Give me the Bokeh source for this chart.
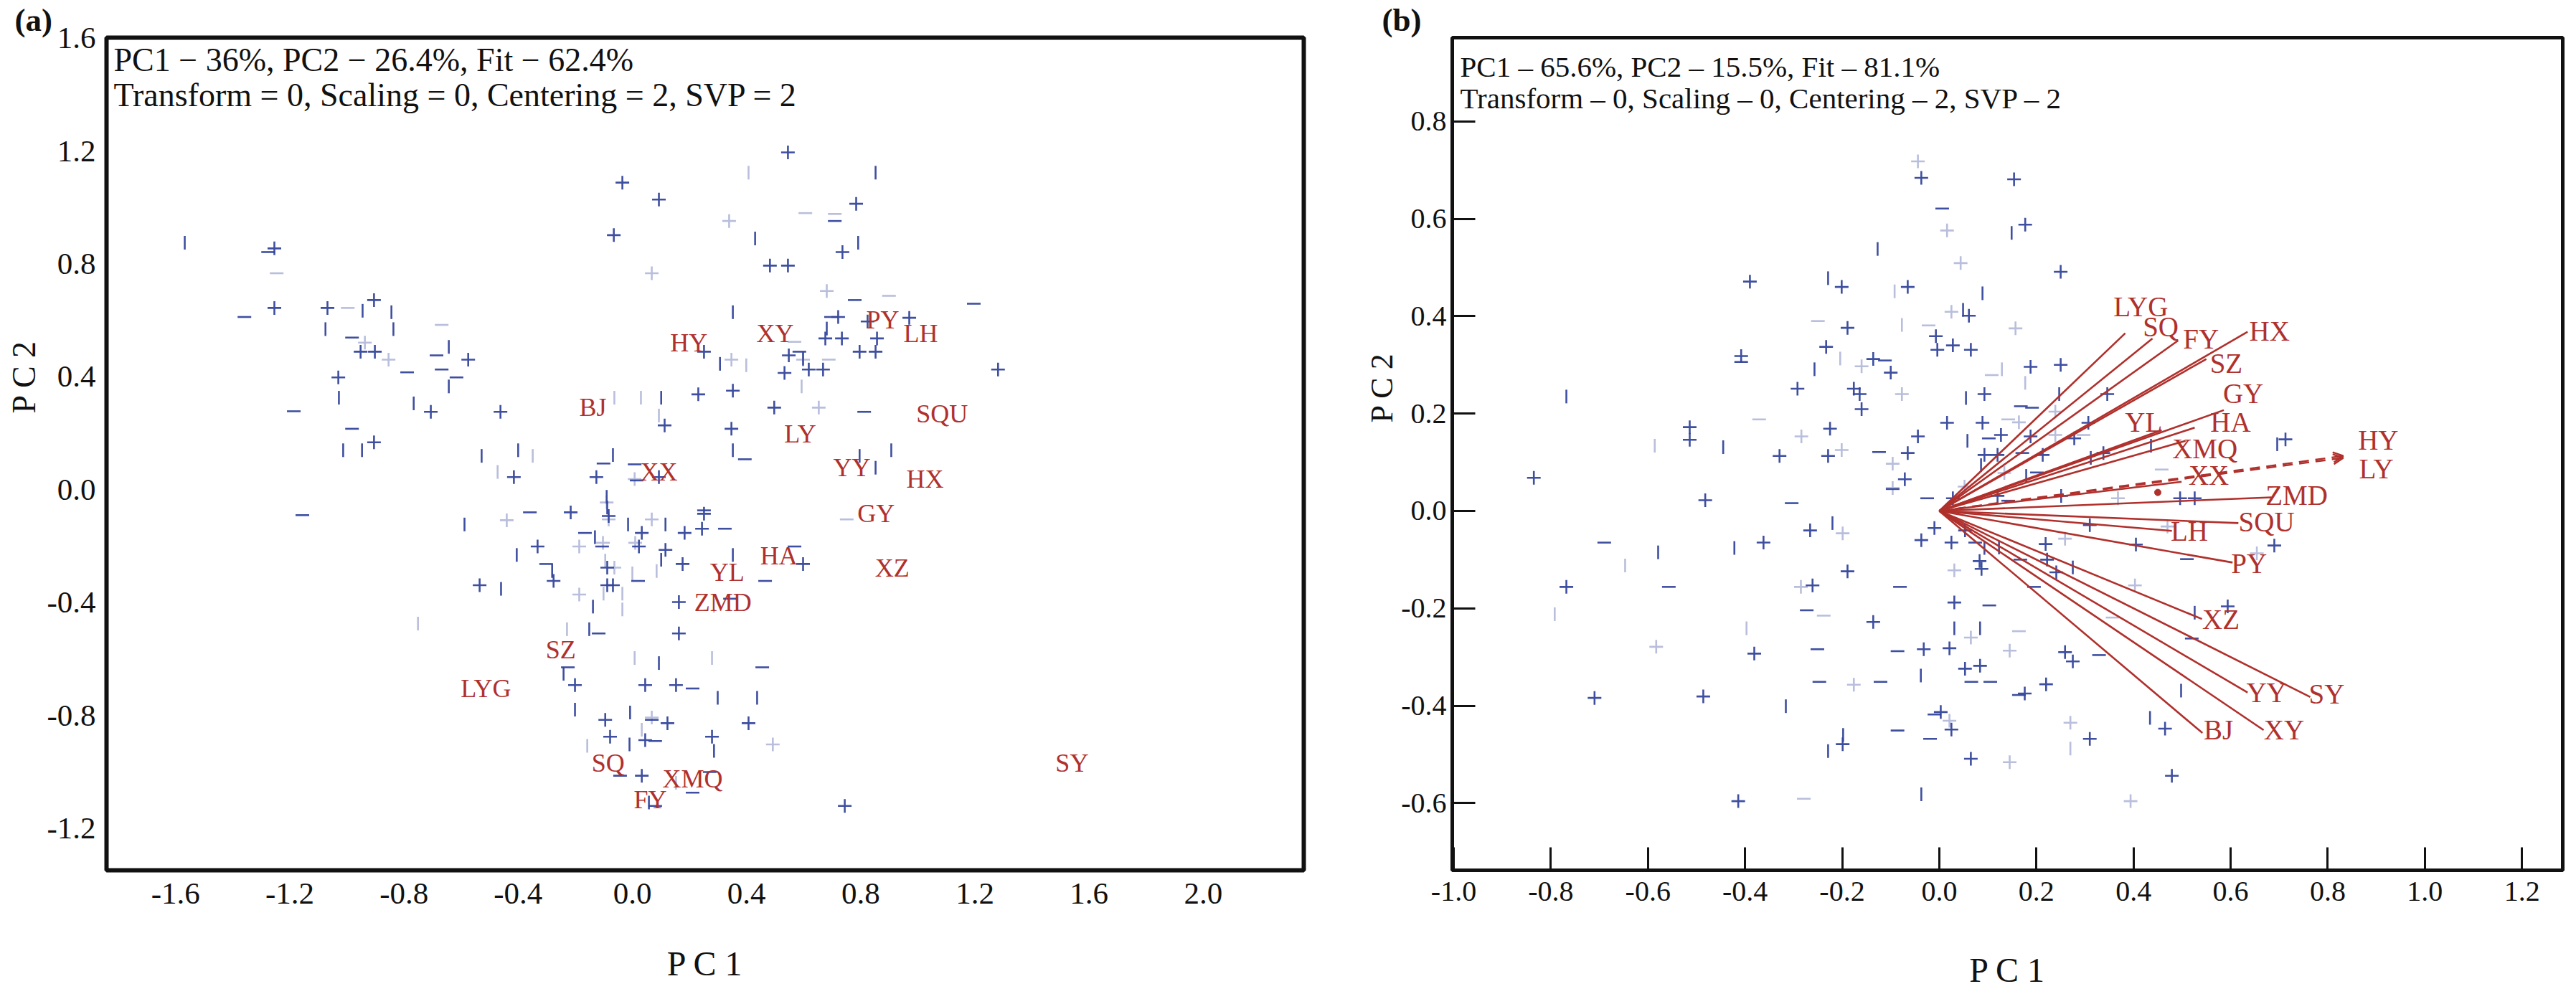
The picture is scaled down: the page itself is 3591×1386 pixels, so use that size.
import math

from bokeh.core.properties import value
from bokeh.embed import file_html
from bokeh.layouts import row
from bokeh.models import (Arrow, FixedTicker, Label, OpenHead, PrintfTickFormatter, Range1d,
                          Title)
from bokeh.plotting import figure
from bokeh.resources import INLINE

FONT = "Liberation Serif"
BLUE = "#34469b"
RED = "#b0302c"

# ---------------------------------------------------------------- panel (a)
# genotype scores (PC1, PC2), grouped by how each marker is drawn
A_PLUS = [
    (-1.254, 0.855), (-1.254, 0.644), (-1.068, 0.644), (-0.905, 0.672), (-0.952, 0.489),
    (-0.902, 0.489), (-0.575, 0.461), (-1.030, 0.398), (-0.706, 0.276), (-0.462, 0.276),
    (-0.905, 0.168), (-0.415, 0.045), (-0.126, 0.045), (-0.035, 1.088), (-0.065, 0.902),
    (0.545, 1.195), (0.093, 1.028), (0.784, 1.013), (0.736, 0.842), (0.482, 0.794),
    (0.545, 0.794), (0.721, 0.612), (0.824, 0.596), (0.970, 0.609), (0.676, 0.536),
    (0.734, 0.536), (0.857, 0.536), (0.796, 0.489), (0.852, 0.489), (0.251, 0.489),
    (0.548, 0.476), (1.281, 0.426), (0.618, 0.426), (0.668, 0.426), (0.533, 0.414),
    (0.231, 0.338), (0.352, 0.351), (0.497, 0.291), (0.113, 0.228), (0.347, 0.216),
    (0.093, 0.045), (-0.216, -0.080), (-0.083, -0.093), (0.251, -0.085), (0.244, -0.138),
    (0.183, -0.153), (0.033, -0.153), (-0.332, -0.201), (0.023, -0.201), (0.116, -0.213),
    (0.176, -0.263), (-0.276, -0.323), (-0.088, -0.276), (-0.535, -0.338), (-0.088, -0.338),
    (-0.068, -0.338), (0.598, -0.263), (0.163, -0.398), (0.163, -0.509), (-0.201, -0.692),
    (0.045, -0.692), (0.153, -0.692), (-0.095, -0.815), (0.123, -0.827), (0.407, -0.827),
    (-0.078, -0.875), (0.045, -0.887), (0.279, -0.875), (0.033, -1.013), (0.744, -1.120),
]
A_PLUS_FAINT = [
    (-0.937, 0.521), (-0.854, 0.461), (0.339, 0.952), (0.068, 0.767), (0.681, 0.704),
    (0.598, 0.461), (0.347, 0.461), (0.653, 0.291), (0.008, 0.038), (-0.440, -0.108),
    (-0.090, -0.045), (-0.083, -0.105), (0.068, -0.105), (-0.103, -0.188), (-0.186, -0.201),
    (0.010, -0.188), (-0.063, -0.276), (-0.186, -0.371), (0.068, -0.807), (0.492, -0.902),
]
A_HBAR = [
    (-1.276, 0.842), (-1.359, 0.612), (-0.982, 0.539), (-0.789, 0.416), (-0.686, 0.476),
    (-0.668, 0.426), (-0.616, 0.398), (-1.186, 0.278), (-0.982, 0.216), (-0.101, 0.093),
    (0.709, 0.952), (0.779, 0.672), (1.196, 0.659), (0.696, 0.612), (0.585, 0.489),
    (0.812, 0.276), (0.394, 0.108), (0.008, 0.090), (0.015, 0.033), (-1.156, -0.090),
    (-0.359, -0.080), (0.251, -0.073), (0.324, -0.138), (-0.166, -0.153), (-0.106, -0.201),
    (-0.302, -0.263), (0.020, -0.323), (0.465, -0.323), (0.568, -0.201), (0.342, -0.386),
    (-0.118, -0.509), (0.455, -0.629), (-0.226, -0.629), (0.211, -0.704), (0.068, -0.815),
    (0.080, -0.890), (-0.043, -1.013), (0.211, -1.073), (0.271, -1.000), (0.080, -1.120),
]
A_HBAR_FAINT = [
    (-1.246, 0.767), (-0.997, 0.644), (-0.668, 0.584), (0.606, 0.980), (0.709, 0.977),
    (0.899, 0.687), (0.568, 0.524), (0.688, 0.461), (0.751, -0.105),
]
A_VBAR = [
    (-1.568, 0.875), (-0.945, 0.634), (-0.844, 0.629), (-1.075, 0.569), (-0.837, 0.569),
    (-0.643, 0.506), (-0.643, 0.366), (-1.028, 0.326), (-0.766, 0.306), (-1.013, 0.140),
    (-0.947, 0.140), (-0.528, 0.120), (-0.400, 0.140), (-0.068, 0.123), (0.852, 1.123),
    (0.430, 0.890), (0.791, 0.875), (0.352, 0.629), (0.681, 0.571), (0.598, 0.464),
    (0.307, 0.446), (0.101, 0.326), (0.352, 0.140), (0.796, 0.120), (0.907, 0.140),
    (0.852, 0.078), (-0.090, -0.025), (-0.088, -0.063), (-0.588, -0.123), (-0.015, -0.123),
    (0.116, -0.123), (-0.131, -0.168), (-0.405, -0.231), (0.101, -0.248), (0.352, -0.231),
    (-0.281, -0.288), (-0.460, -0.351), (-0.138, -0.414), (-0.151, -0.494), (0.093, -0.614),
    (-0.241, -0.652), (0.299, -0.737), (0.437, -0.737), (-0.201, -0.779), (-0.008, -0.789),
    (-0.010, -0.902), (0.286, -0.925), (0.058, -1.108),
]
A_VBAR_FAINT = [
    (-0.349, 0.120), (-0.472, 0.063), (-0.063, 0.326), (0.030, 0.326), (0.407, 1.123),
    (0.399, 0.441), (0.593, 0.366), (0.093, 0.263), (-0.095, -0.251), (0.000, -0.296),
    (-0.101, -0.368), (-0.035, -0.368), (-0.035, -0.424), (0.085, -0.288), (0.286, -0.411),
    (-0.229, -0.494), (-0.751, -0.474), (0.008, -0.596), (0.279, -0.596), (-0.158, -0.907),
    (0.033, -0.850), (0.153, -1.038),
]
# environment names and their scores
A_ENV = ["HY", "XY", "PY", "LH", "BJ", "SQU", "LY", "YY", "HX", "XX", "GY", "HA", "YL",
         "XZ", "ZMD", "SZ", "LYG", "SQ", "XMQ", "FY", "SY"]
A_ENV_PC1 = [0.198, 0.500, 0.877, 1.010, -0.138, 1.085, 0.588, 0.769, 1.025, 0.093, 0.854,
             0.513, 0.332, 0.910, 0.317, -0.251, -0.513, -0.085, 0.211, 0.063, 1.540]
A_ENV_PC2 = [0.521, 0.554, 0.602, 0.554, 0.293, 0.268, 0.198, 0.078, 0.038, 0.063, -0.085,
             -0.233, -0.293, -0.276, -0.398, -0.566, -0.704, -0.967, -1.025, -1.098, -0.967]
A_XTICKS = [-1.6, -1.2, -0.8, -0.4, 0.0, 0.4, 0.8, 1.2, 1.6, 2.0]
A_YTICKS = [-1.2, -0.8, -0.4, 0.0, 0.4, 0.8, 1.2, 1.6]
A_HEADER = ["PC1 \u2212 36%, PC2 \u2212 26.4%, Fit \u2212 62.4%",
            "Transform = 0, Scaling = 0, Centering = 2, SVP = 2"]

# ---------------------------------------------------------------- panel (b)
B_PLUS = [
    (-0.037, 0.684), (-0.390, 0.471), (-0.201, 0.460), (-0.065, 0.460), (-0.189, 0.376),
    (-0.233, 0.337), (-0.408, 0.318), (-0.136, 0.312), (-0.100, 0.284), (-0.292, 0.251),
    (-0.176, 0.251), (-0.164, 0.240), (-0.160, 0.209), (-0.514, 0.172), (-0.514, 0.146),
    (-0.329, 0.113), (-0.225, 0.169), (-0.229, 0.113), (-0.065, 0.119), (-0.044, 0.153),
    (-0.835, 0.068), (-0.071, 0.065), (-0.482, 0.022), (0.154, 0.681), (0.177, 0.588),
    (0.250, 0.491), (0.061, 0.401), (-0.007, 0.359), (0.028, 0.340), (-0.004, 0.331),
    (0.065, 0.331), (0.188, 0.296), (0.250, 0.300), (0.093, 0.240), (0.346, 0.240),
    (0.016, 0.181), (0.089, 0.181), (0.127, 0.156), (0.188, 0.153), (0.278, 0.149),
    (0.307, 0.181), (0.093, 0.115), (0.120, 0.115), (0.213, 0.115), (0.338, 0.119),
    (0.028, 0.026), (0.120, 0.031), (0.251, 0.031), (0.496, 0.026), (0.526, 0.026),
    (0.713, 0.147), (0.690, -0.071), (0.405, -0.069), (0.310, -0.029), (0.219, -0.068),
    (0.025, -0.065), (0.053, -0.040), (0.083, -0.103), (0.087, -0.119), (0.222, -0.100),
    (0.241, -0.126), (0.031, -0.188), (0.594, -0.196), (0.021, -0.282), (0.259, -0.290),
    (0.275, -0.309), (0.053, -0.324), (0.084, -0.318), (0.220, -0.356), (0.176, -0.375),
    (0.003, -0.413), (0.025, -0.449), (0.465, -0.447), (0.310, -0.468), (0.065, -0.509),
    (0.479, -0.544), (-0.768, -0.156), (-0.362, -0.065), (-0.266, -0.040), (-0.037, -0.060),
    (-0.010, -0.035), (-0.189, -0.124), (-0.261, -0.153), (-0.136, -0.228), (-0.381, -0.293),
    (-0.032, -0.284), (-0.710, -0.384), (-0.486, -0.381), (-0.199, -0.479), (-0.414, -0.596),
]
B_PLUS_FAINT = [
    (-0.044, 0.718), (-0.160, 0.297), (-0.077, 0.240), (-0.284, 0.153), (-0.201, 0.125),
    (-0.096, 0.097), (-0.096, 0.047), (0.016, 0.576), (0.044, 0.509), (0.025, 0.409),
    (0.157, 0.375), (0.239, 0.204), (0.164, 0.182), (0.239, 0.156), (0.134, 0.078),
    (0.052, 0.050), (0.368, 0.026), (0.654, -0.087), (0.470, -0.032), (0.259, -0.057),
    (0.031, -0.122), (0.403, -0.153), (0.065, -0.260), (0.145, -0.287), (0.021, -0.431),
    (0.270, -0.435), (0.145, -0.516), (0.394, -0.596), (-0.199, -0.046), (-0.285, -0.156),
    (-0.583, -0.279), (-0.176, -0.357),
]
B_HBAR = [
    (-0.408, 0.306), (-0.112, 0.309), (-0.124, 0.121), (-0.304, 0.016), (-0.096, 0.045),
    (0.006, 0.621), (0.168, 0.215), (0.191, 0.212), (0.102, 0.149), (0.171, 0.119),
    (0.201, 0.079), (-0.025, 0.026), (0.142, 0.021), (0.510, -0.099), (0.074, -0.065),
    (0.167, -0.100), (0.195, -0.156), (0.103, -0.194), (0.520, -0.262), (0.329, -0.296),
    (0.066, -0.351), (0.105, -0.351), (0.164, -0.378), (-0.690, -0.065), (-0.557, -0.156),
    (-0.081, -0.156), (-0.273, -0.204), (-0.251, -0.284), (-0.086, -0.288), (-0.247, -0.351),
    (-0.121, -0.351), (-0.010, -0.418), (-0.086, -0.451), (-0.019, -0.468),
]
B_HBAR_FAINT = [
    (-0.250, 0.390), (-0.371, 0.188), (-0.022, 0.381), (0.108, 0.279), (0.142, 0.188),
    (0.297, 0.156), (0.458, 0.085), (0.357, -0.219), (0.164, -0.247), (-0.238, -0.215),
    (-0.279, -0.591),
]
B_VBAR = [
    (-0.127, 0.538), (-0.229, 0.478), (-0.257, 0.291), (-0.768, 0.235), (-0.445, 0.131),
    (0.149, 0.571), (0.089, 0.447), (0.049, 0.413), (0.055, 0.232), (0.247, 0.240),
    (0.058, 0.144), (0.086, 0.094), (0.312, 0.109), (0.179, 0.072), (0.436, 0.134),
    (0.696, 0.137), (0.123, -0.075), (0.093, -0.076), (0.275, -0.116), (0.526, -0.209),
    (0.031, -0.241), (0.084, -0.241), (0.498, -0.369), (0.434, -0.425), (-0.579, -0.085),
    (-0.422, -0.076), (-0.220, -0.025), (-0.038, -0.338), (-0.316, -0.401), (-0.198, -0.460),
    (-0.229, -0.493), (-0.037, -0.582),
]
B_VBAR_FAINT = [
    (-0.092, 0.451), (-0.077, 0.382), (-0.204, 0.313), (-0.586, 0.134), (0.129, 0.291),
    (0.177, 0.263), (0.270, -0.488), (-0.647, -0.112), (-0.397, -0.241), (-0.792, -0.212),
]
# environment vectors: end points and label positions
B_ENV = ["LYG", "SQ", "FY", "HX", "SZ", "GY", "HA", "YL", "XMQ", "XX", "HY", "LY",
         "ZMD", "SQU", "LH", "PY", "XZ", "SY", "YY", "XY", "BJ"]
B_ENV_PC1 = [0.383, 0.439, 0.492, 0.635, 0.550, 0.586, 0.526, 0.458, 0.507, 0.499, 0.832,
             0.832, 0.684, 0.616, 0.479, 0.604, 0.541, 0.764, 0.635, 0.668, 0.542]
B_ENV_PC2 = [0.365, 0.354, 0.350, 0.368, 0.312, 0.207, 0.171, 0.166, 0.144, 0.060, 0.113,
             0.109, 0.028, -0.025, -0.041, -0.106, -0.222, -0.382, -0.373, -0.450, -0.456]
B_LABEL_PC1 = [0.415, 0.456, 0.539, 0.680, 0.591, 0.626, 0.600, 0.421, 0.547, 0.555, 0.904,
               0.900, 0.736, 0.674, 0.515, 0.638, 0.580, 0.798, 0.674, 0.710, 0.575]
B_LABEL_PC2 = [0.419, 0.379, 0.354, 0.369, 0.303, 0.241, 0.182, 0.182, 0.128, 0.074, 0.146,
               0.087, 0.032, -0.022, -0.041, -0.107, -0.222, -0.376, -0.373, -0.450, -0.450]
B_DASHED = ["HY", "LY"]
B_AVG_ENV = (0.450, 0.038)
B_XTICKS = [-1.0, -0.8, -0.6, -0.4, -0.2, 0.0, 0.2, 0.4, 0.6, 0.8, 1.0, 1.2]
B_YTICKS = [-0.6, -0.4, -0.2, 0.0, 0.2, 0.4, 0.6, 0.8]
B_HEADER = ["PC1 \u2013 65.6%, PC2 \u2013 15.5%, Fit \u2013 81.1%",
            "Transform \u2013 0, Scaling \u2013 0, Centering \u2013 2, SVP \u2013 2"]


def make_panel(width, borders, xr, yr, xticks, yticks, tick_px, outline_w, inner_ticks):
    left, right, top, bottom = borders
    p = figure(width=width, height=1386, x_range=Range1d(*xr), y_range=Range1d(*yr),
               output_backend="svg", toolbar_location=None, title=None,
               min_border_left=left, min_border_right=right,
               min_border_top=top, min_border_bottom=bottom)
    p.grid.visible = False
    p.background_fill_color = "white"
    p.border_fill_color = "white"
    p.outline_line_color = "#111111"
    p.outline_line_width = outline_w
    p.xaxis.ticker = FixedTicker(ticks=xticks)
    p.yaxis.ticker = FixedTicker(ticks=yticks)
    for ax in (p.xaxis[0], p.yaxis[0]):
        ax.formatter = PrintfTickFormatter(format="%.1f")
        ax.axis_line_color = None
        ax.minor_tick_line_color = None
        ax.major_label_text_font = FONT
        ax.major_label_text_font_size = f"{tick_px}px"
        ax.major_label_text_color = "#111111"
        ax.axis_label_text_font = FONT
        ax.axis_label_text_font_style = "normal"
        ax.axis_label_text_color = "#111111"
        if inner_ticks:
            ax.major_tick_in = 32
            ax.major_tick_out = 0
            ax.major_tick_line_width = 3
            ax.major_tick_line_color = "#111111"
        else:
            ax.major_tick_line_color = None
    return p


def add_marks(p, pts, kind, alpha):
    xs = [q[0] for q in pts]
    ys = [q[1] for q in pts]
    if kind == "plus":
        p.scatter(xs, ys, marker="cross", size=19, line_color=BLUE, line_width=2.6,
                  line_alpha=alpha)
    else:
        ang = math.pi / 2 if kind == "vbar" else 0.0
        p.scatter(xs, ys, marker="dash", size=19, angle=ang, line_color=BLUE,
                  line_width=2.6, line_alpha=alpha)


def header_line(p, text, x, y, size):
    p.add_layout(Label(x=x, y=y, x_units="screen", y_units="screen", text=text,
                       text_font=FONT, text_font_size=f"{size}px", text_align="left",
                       text_baseline="alphabetic", text_color="#111111"))


def side_title(p, text, place, offset, size, standoff, bold=False, valign="bottom"):
    p.add_layout(Title(text=text, align="left", offset=offset, standoff=standoff,
                       vertical_align=valign, text_font=FONT, text_font_size=f"{size}px",
                       text_font_style="bold" if bold else "normal",
                       text_color="#111111"), place)


DARK, FAINT = 0.95, 0.35

# panel (a): genotype scatter with environment names
pa = make_panel(1880, (148, 63, 50, 160), (-1.842, 2.352), (-1.348, 1.6015),
                A_XTICKS, A_YTICKS, 43, 6, False)
pa.xaxis.major_label_standoff = 12
pa.yaxis.major_label_standoff = 9
pa.xaxis.axis_label = "P C 1"
pa.xaxis.axis_label_text_font_size = "48px"
pa.xaxis.axis_label_standoff = 54
for pts, kind, a in [(A_PLUS, "plus", DARK), (A_PLUS_FAINT, "plus", FAINT),
                     (A_HBAR, "hbar", DARK), (A_HBAR_FAINT, "hbar", FAINT),
                     (A_VBAR, "vbar", DARK), (A_VBAR_FAINT, "vbar", FAINT)]:
    add_marks(pa, pts, kind, a)
pa.text(A_ENV_PC1, A_ENV_PC2, text=A_ENV, text_font=value(FONT), text_font_size="36px",
        text_color=RED, text_align="center", text_baseline="middle")
header_line(pa, A_HEADER[0], 10, 1130, 46)
header_line(pa, A_HEADER[1], 10, 1081, 46)
side_title(pa, "(a)", "above", -128, 45, 0, bold=True)
side_title(pa, "P C 2", "left", 637, 46, 8)

# panel (b): biplot with environment vectors
pb = make_panel(1711, (144, 19, 50, 173), (-1.003, 1.284), (-0.738, 0.972),
                B_XTICKS, B_YTICKS, 40, 5, True)
pb.xaxis.major_label_standoff = 16
pb.yaxis.major_label_standoff = 8
pb.xaxis.axis_label = "P C 1"
pb.xaxis.axis_label_text_font_size = "48px"
pb.xaxis.axis_label_standoff = 67
for pts, kind, a in [(B_PLUS, "plus", DARK), (B_PLUS_FAINT, "plus", FAINT),
                     (B_HBAR, "hbar", DARK), (B_HBAR_FAINT, "hbar", FAINT),
                     (B_VBAR, "vbar", DARK), (B_VBAR_FAINT, "vbar", FAINT)]:
    add_marks(pb, pts, kind, a)

solid = [i for i, n in enumerate(B_ENV) if n not in B_DASHED]
dashed = [i for i, n in enumerate(B_ENV) if n in B_DASHED]
pb.segment(x0=[0.0] * len(solid), y0=[0.0] * len(solid),
           x1=[B_ENV_PC1[i] for i in solid], y1=[B_ENV_PC2[i] for i in solid],
           line_color=RED, line_width=2.6)
for i in dashed:
    pb.add_layout(Arrow(x_start=0.0, y_start=0.0, x_end=B_ENV_PC1[i], y_end=B_ENV_PC2[i],
                        line_color=RED, line_width=2.4, line_dash="14 9",
                        end=OpenHead(size=14, line_color=RED, line_width=2.4)))
pb.scatter([B_AVG_ENV[0]], [B_AVG_ENV[1]], marker="circle", size=9, fill_color=RED,
           line_color=RED)
pb.text(B_LABEL_PC1, B_LABEL_PC2, text=B_ENV, text_font=value(FONT), text_font_size="39px",
        text_color=RED, text_align="center", text_baseline="middle")
header_line(pb, B_HEADER[0], 11, 1121, 41)
header_line(pb, B_HEADER[1], 11, 1077, 41)
side_title(pb, "(b)", "above", -98, 45, 0, bold=True)
side_title(pb, "P C 2", "left", 624, 44, 0)

layout = row(pa, pb)
open("out.html", "w").write(file_html(layout, INLINE))
